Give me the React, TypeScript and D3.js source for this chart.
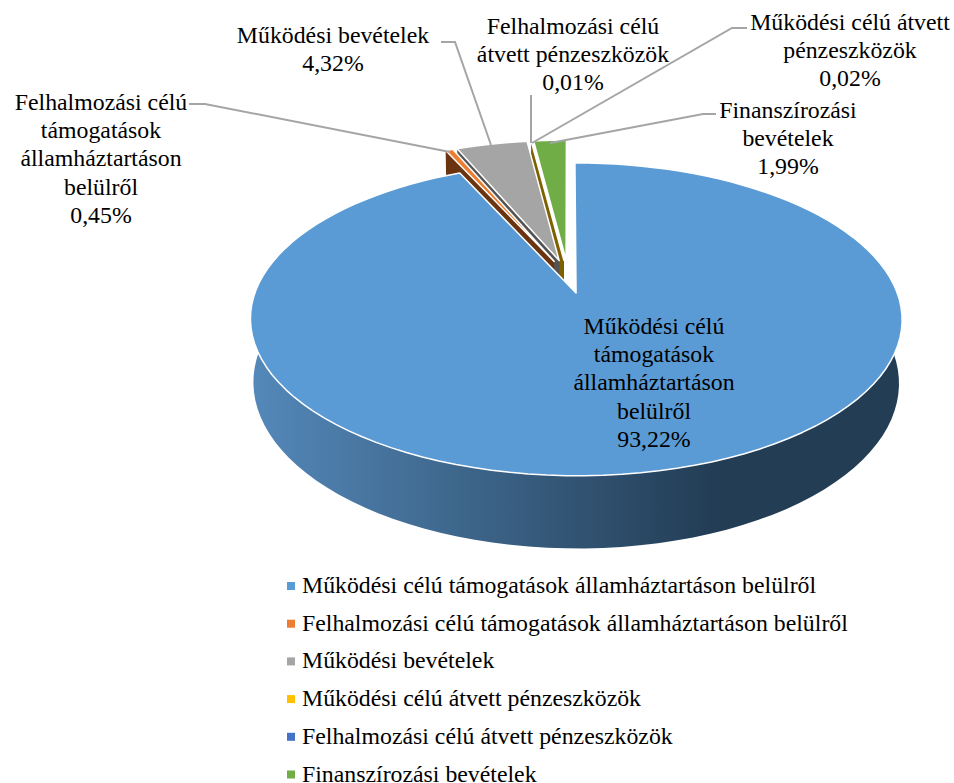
import React from "react";
import * as d3 from "d3";

const categories = [
  "Működési célú támogatások államháztartáson belülről",
  "Felhalmozási célú támogatások államháztartáson belülről",
  "Működési bevételek",
  "Működési célú átvett pénzeszközök",
  "Felhalmozási célú átvett pénzeszközök",
  "Finanszírozási bevételek",
];
const values = [93.22, 0.45, 4.32, 0.02, 0.01, 1.99];
const colors = ["#5B9BD5", "#ED7D31", "#A5A5A5", "#FFC000", "#4472C4", "#70AD47"];
const wallColors = ["#2f5d85", "#6B3410", "#545454", "#7F6000", "#223a66", "#ffffff"];
const labelLines = [
  ["Működési célú", "támogatások", "államháztartáson", "belülről", "93,22%"],
  ["Felhalmozási célú", "támogatások", "államháztartáson", "belülről", "0,45%"],
  ["Működési bevételek", "4,32%"],
  ["Működési célú átvett", "pénzeszközök", "0,02%"],
  ["Felhalmozási célú", "átvett pénzeszközök", "0,01%"],
  ["Finanszírozási", "bevételek", "1,99%"],
];
const labelAnchors: [number, number][] = [
  [654, 334], [101, 110], [333, 43], [850, 30], [573, 34], [788, 118],
];
const leaders: [number, number][][] = [
  [],
  [[189, 104], [205, 104], [450, 152]],
  [[441, 42], [455, 42], [491, 145]],
  [[747, 28], [732, 28], [532, 143]],
  [[531, 95], [531, 143]],
  [[716, 114], [703, 114], [550, 143]],
];

const FONT = "'Liberation Serif', serif";
const cx = 568.3, cy = 276.4, a = 315.3, b = 146.5, p = 0.165, q = 0.009, d = 61.8;
const explode = 0.114;
const smallRadius = 0.985;

type P = [number, number];
function project(X: number, Y: number, low: boolean): P {
  const w = 1 + p * Y + (low ? q : 0);
  return [cx + (a * X) / w, cy - (b * Y - (low ? d : 0)) / w];
}
const pie = d3.pie<number>().sort(null).value((v) => v)(values);
const lineGen = d3.line<P>();

function sliceGeom(i: number) {
  const { startAngle: s, endAngle: e } = pie[i];
  const m = (s + e) / 2;
  const r = i === 0 ? 1 : smallRadius;
  const ox = explode * Math.sin(m), oy = explode * Math.cos(m);
  const angles = d3.range(0, 121).map((k) => s + ((e - s) * k) / 120);
  const arc = (low: boolean, list: number[]) =>
    list.map((t) => project(ox + r * Math.sin(t), oy + r * Math.cos(t), low));
  const apex = project(ox, oy, false);
  const apexLow = project(ox, oy, true);
  const top = [apex, ...arc(false, angles)];
  const cutStart = [apex, arc(false, [s])[0], arc(true, [s])[0], apexLow];
  const front = angles.filter((t) => Math.cos(t) < 0.25);
  const wall = [...arc(false, front), ...arc(true, front).reverse()];
  return { top, cutStart, wall };
}

export default function App() {
  const order = [5, 4, 3, 2, 1, 0];
  const gx1 = cx - a - 5, gx2 = 712;
  return (
    <svg width={954} height={783} style={{ position: "fixed", left: 0, top: 0, background: "#fff" }} fontFamily={FONT}>
      <defs>
        <linearGradient id="wall" gradientUnits="userSpaceOnUse" x1={gx1} x2={gx2} y1={0} y2={0}>
          <stop offset="0" stopColor="#5489BA" />
          <stop offset="1" stopColor="#233D55" />
        </linearGradient>
      </defs>
      {order.map((i) => {
        const g = sliceGeom(i);
        return (
          <g key={i}>
            {i === 0 && <path d={lineGen(g.wall) + "Z"} fill="url(#wall)" />}
            {i !== 0 && i !== 5 && (
              <path d={lineGen(g.cutStart) + "Z"} fill={wallColors[i]} />
            )}
            <path d={lineGen(g.top) + "Z"} fill={colors[i]} stroke="#fff" strokeWidth={1.5} strokeLinejoin="round" />
          </g>
        );
      })}
      {leaders.map((pts, i) =>
        pts.length ? (
          <path key={i} d={lineGen(pts as P[]) || ""} fill="none" stroke="#A5A5A5" strokeWidth={2} />
        ) : null
      )}
      {labelLines.map((lines, i) => (
        <text key={i} textAnchor="middle" fontSize={23.8} fill="#000">
          {lines.map((l, k) => (
            <tspan key={k} x={labelAnchors[i][0]} y={labelAnchors[i][1] + k * 28.2}>{l}</tspan>
          ))}
        </text>
      ))}
      {categories.map((c, i) => {
        const y = 586 + i * 37.7;
        return (
          <g key={c}>
            <rect x={287} y={y - 4} width={8} height={8} fill={colors[i]} />
            <text x={302} y={y + 7} fontSize={23.8} fill="#000">{c}</text>
          </g>
        );
      })}
    </svg>
  );
}
